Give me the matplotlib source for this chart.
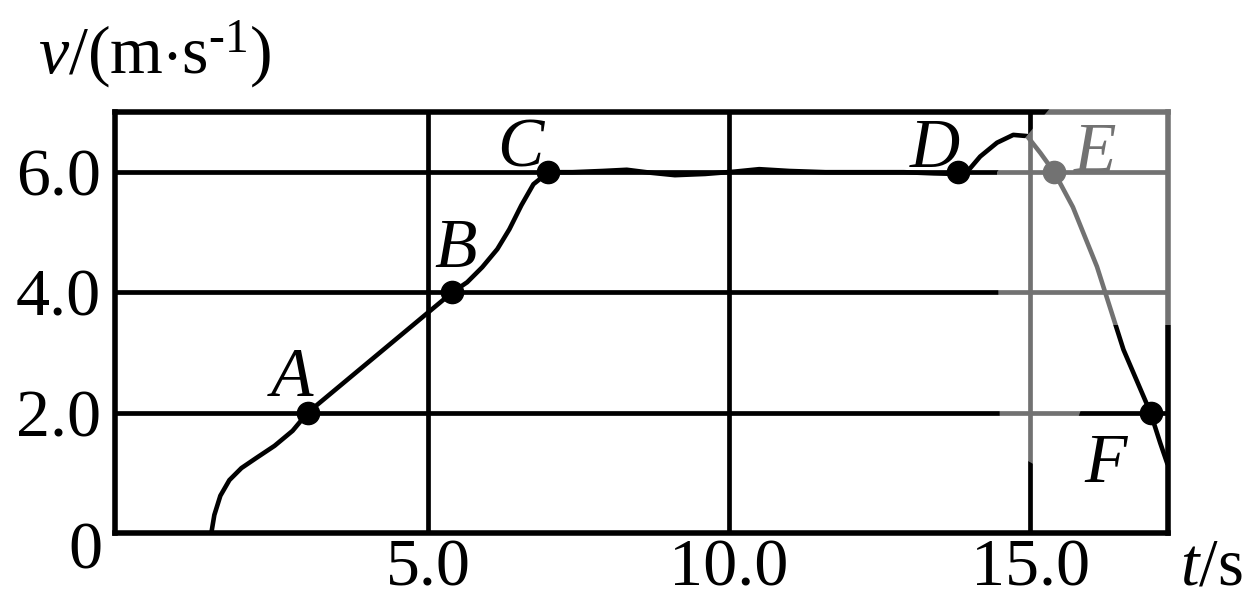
import matplotlib
matplotlib.use("Agg")
import matplotlib.pyplot as plt
from matplotlib.patches import Polygon

plt.rcParams['font.family'] = ['Liberation Serif', 'DejaVu Serif']
plt.rcParams['mathtext.fontset'] = 'custom'
plt.rcParams['mathtext.rm'] = 'Liberation Serif'
plt.rcParams['mathtext.it'] = 'Liberation Serif:italic'

# v-t curve read point by point
t = [1.40, 1.45, 1.55, 1.70, 1.90, 2.15, 2.45, 2.75, 3.0,
     4.2, 5.4,
     5.65, 5.90, 6.15, 6.35, 6.55, 6.75, 7.0,
     7.4, 7.9, 8.3, 8.7, 9.1, 9.6, 10.1, 10.5, 11.0, 11.6, 12.3, 12.9, 13.4, 13.8,
     14.0, 14.17, 14.45, 14.72, 14.95, 15.17, 15.4,
     15.71, 16.11, 16.55, 17.0, 17.16, 17.28]
v = [0.0, 0.30, 0.62, 0.88, 1.08, 1.25, 1.45, 1.70, 2.0,
     3.0, 4.0,
     4.17, 4.42, 4.72, 5.05, 5.45, 5.80, 6.0,
     6.0, 6.02, 6.04, 5.99, 5.95, 5.97, 6.01, 6.05, 6.02, 6.0, 6.0, 6.0, 5.98, 5.97,
     6.06, 6.26, 6.49, 6.62, 6.60, 6.32, 6.0,
     5.42, 4.43, 3.05, 2.0, 1.50, 1.15]

# labelled points
names = ['A', 'B', 'C', 'D', 'E', 'F']
pt_t = [3.0, 5.4, 7.0, 13.8, 15.4, 17.0]
pt_v = [2.0, 4.0, 6.0, 6.0, 6.0, 2.0]
lab_t = [2.74, 5.45, 6.53, 13.42, 16.08, 16.25]
lab_v = [2.55, 4.71, 6.37, 6.37, 6.29, 1.13]

x_ticks = [5.0, 10.0, 15.0]
y_ticks = [2.0, 4.0, 6.0]

fig = plt.figure(figsize=(12.5, 6.01), dpi=100)
ax = fig.add_axes([0.092, 0.1131, 0.8424, 0.7005])
ax.set_xlim(-0.2, 17.29)
ax.set_ylim(0, 7.0)

for s in ax.spines.values():
    s.set_linewidth(4)
for x in x_ticks:
    ax.axvline(x, color='black', lw=3.4)
for y in y_ticks:
    ax.axhline(y, color='black', lw=3.4)

ax.plot(t, v, color='black', lw=3.3, solid_capstyle='round',
        solid_joinstyle='round', zorder=3)
ax.plot(pt_t, pt_v, 'o', color='black', ms=16, zorder=4)
for n, x, y in zip(names, lab_t, lab_v):
    ax.text(x, y, n, fontsize=50, style='italic', ha='center', va='center')

ax.set_xticks(x_ticks)
ax.set_xticklabels(['%.1f' % x for x in x_ticks])
ax.set_yticks(y_ticks)
ax.set_yticklabels(['%.1f' % y for y in y_ticks])
ax.tick_params(length=0, labelsize=49)
ax.tick_params(axis='x', pad=4)
ax.tick_params(axis='y', pad=10)

fig.text(85 / 1250, 1 - 552 / 601, '0', fontsize=49, ha='center', va='center')
fig.text(38 / 1250, 1 - 55 / 601, '$v$/(m$\\cdot$s$^{\u20101}$)', fontsize=49,
         ha='left', va='center')
fig.text(1180 / 1250, 1 - 568 / 601, r'$t$/s', fontsize=48,
         ha='left', va='center')

# faded print in the upper right corner
corner = [(1057, 100), (1185, 100), (1185, 325), (1112, 325), (1078, 418),
          (1035, 465), (1000, 445), (997, 172), (1030, 132)]
fade = Polygon([(px / 1250, 1 - py / 601) for px, py in corner],
               closed=True, transform=fig.transFigure,
               facecolor='white', edgecolor='none', alpha=0.45, zorder=10)
fig.add_artist(fade)

fig.savefig('out.png', dpi=100)
